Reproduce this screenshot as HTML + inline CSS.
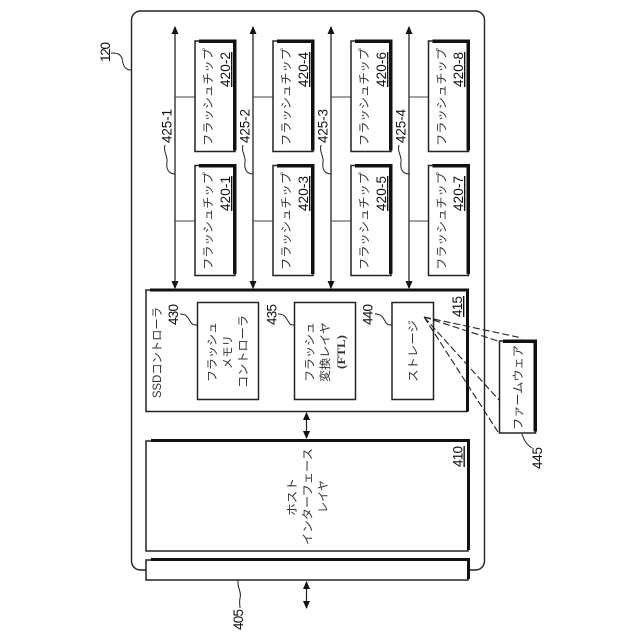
<!DOCTYPE html>
<html><head><meta charset="utf-8">
<style>
html,body{margin:0;padding:0;background:#fff}
svg{display:block}
.n{font-family:"Liberation Sans",sans-serif;font-size:13.5px;fill:#111}
.j{font-family:"Liberation Sans","Noto Sans CJK JP",sans-serif;font-size:11.5px;fill:#333}
.l{fill:none;stroke:#222;stroke-width:1.2}
.b{fill:#fff;stroke:#222;stroke-width:1.5}
.t{fill:#111}
</style></head><body>
<svg width="640" height="640" viewBox="0 0 640 640" xmlns="http://www.w3.org/2000/svg">
<defs>
<marker id="a" viewBox="0 0 8 8" refX="7" refY="4" markerWidth="8" markerHeight="8" orient="auto-start-reverse" markerUnits="userSpaceOnUse"><path d="M0 .5L8 4L0 7.5z" fill="#111"/></marker>
</defs>
<rect x="131.500" y="11" width="353" height="559" rx="9" fill="#fff" stroke="#222" stroke-width="1.4"/>

<!-- buses -->
<g stroke="#333" stroke-width="1.4">
<line x1="175" y1="27" x2="175" y2="288" marker-start="url(#a)" marker-end="url(#a)"/>
<line x1="253" y1="27" x2="253" y2="288" marker-start="url(#a)" marker-end="url(#a)"/>
<line x1="331" y1="27" x2="331" y2="288" marker-start="url(#a)" marker-end="url(#a)"/>
<line x1="409" y1="27" x2="409" y2="288" marker-start="url(#a)" marker-end="url(#a)"/>
</g>
<g stroke="#444" stroke-width="1">
<path d="M175 97H195M175 221H195M253 97H273M253 221H273M331 97H351M331 221H351M409 97H428M409 221H428" fill="none"/>
</g>

<!-- chips -->
<g>
<rect class="b" x="195" y="41" width="40" height="110.500"/><rect class="t" x="199" y="39.500" width="37.500" height="3.500"/><rect class="t" x="233" y="39.500" width="3.500" height="111"/>
<rect class="b" x="195" y="165.500" width="40" height="110"/><rect class="t" x="199" y="164" width="37.500" height="3.500"/><rect class="t" x="233" y="164" width="3.500" height="110"/>
<rect class="b" x="273" y="41" width="40" height="110.500"/><rect class="t" x="277" y="39.500" width="37.500" height="3.500"/><rect class="t" x="311" y="39.500" width="3.500" height="111"/>
<rect class="b" x="273" y="165.500" width="40" height="110"/><rect class="t" x="277" y="164" width="37.500" height="3.500"/><rect class="t" x="311" y="164" width="3.500" height="110"/>
<rect class="b" x="351" y="41" width="40" height="110.500"/><rect class="t" x="355" y="39.500" width="37.500" height="3.500"/><rect class="t" x="389" y="39.500" width="3.500" height="111"/>
<rect class="b" x="351" y="165.500" width="40" height="110"/><rect class="t" x="355" y="164" width="37.500" height="3.500"/><rect class="t" x="389" y="164" width="3.500" height="110"/>
<rect class="b" x="428.500" y="41" width="40" height="110.500"/><rect class="t" x="432.500" y="39.500" width="37.500" height="3.500"/><rect class="t" x="466.500" y="39.500" width="3.500" height="111"/>
<rect class="b" x="428.500" y="165.500" width="40" height="110"/><rect class="t" x="432.500" y="164" width="37.500" height="3.500"/><rect class="t" x="466.500" y="164" width="3.500" height="110"/>
</g>

<!-- controller -->
<rect class="b" x="146" y="290" width="321" height="121.500"/>
<rect class="t" x="150" y="288.500" width="319" height="3"/>
<rect class="t" x="466" y="288.500" width="3" height="123"/>
<rect class="b" x="197.500" y="302.500" width="61" height="97"/>
<rect class="b" x="294.500" y="302.500" width="61" height="97"/>
<rect class="b" x="392" y="302.500" width="41.500" height="97"/>

<!-- firmware -->
<rect class="b" x="499.500" y="341" width="36" height="92"/>
<rect class="t" x="503" y="339.500" width="34" height="3.500"/>
<rect class="t" x="533.500" y="339.500" width="3.500" height="92"/>
<g fill="none" stroke="#222" stroke-width="1.1" stroke-dasharray="7 3">
<path d="M424 317L522 338M424 317L498 341M424 317L499 400M424 317L498 432"/>
</g>

<!-- host -->
<rect class="b" x="146" y="441" width="322" height="110"/>
<rect class="t" x="151" y="439" width="319" height="3"/>
<rect class="t" x="467" y="439" width="3" height="111"/>

<!-- bar -->
<rect class="b" x="146" y="560" width="322" height="20"/>
<rect class="t" x="151" y="558" width="319" height="3"/>
<rect class="t" x="467" y="558" width="3" height="21"/>

<!-- vertical arrows -->
<line x1="306.500" y1="413" x2="306.500" y2="438" stroke="#222" stroke-width="1.2" marker-start="url(#a)" marker-end="url(#a)"/>
<line x1="306.500" y1="582" x2="306.500" y2="608" stroke="#222" stroke-width="1.2" marker-start="url(#a)" marker-end="url(#a)"/>

<!-- leaders -->
<g class="l" style="stroke-width:1">
<path d="M175 174C168 174 166 168 167 162C168 156 163 152 165 145"/>
<path d="M253 174C246 174 244 168 245 162C246 156 241 152 243 145"/>
<path d="M331 174C324 174 322 168 323 162C324 156 319 152 321 145"/>
<path d="M409 174C402 174 400 168 401 162C402 156 397 152 399 145"/>
<path d="M180 314C187 314 188 318 190 321C192 325 194 325 197.500 325"/>
<path d="M278 314C285 314 286 318 288 321C290 325 291 325 294.500 325"/>
<path d="M375 314C382 314 383 318 385 321C387 325 389 325 392 325"/>
<path d="M111 53C118 53 120 54 122 58C123 66 125 70 131 70"/>
<path d="M238 580C237 588 242 592 240 598C239 603 240 605 240 608"/>
<path d="M522 434C524 440 526 444 532 448"/>
</g>

<!-- text -->
<g class="j">
<text transform="translate(212,146) rotate(-90)" textLength="98" lengthAdjust="spacingAndGlyphs">フラッシュチップ</text>
<text transform="translate(212,270) rotate(-90)" textLength="98" lengthAdjust="spacingAndGlyphs">フラッシュチップ</text>
<text transform="translate(290,146) rotate(-90)" textLength="98" lengthAdjust="spacingAndGlyphs">フラッシュチップ</text>
<text transform="translate(290,270) rotate(-90)" textLength="98" lengthAdjust="spacingAndGlyphs">フラッシュチップ</text>
<text transform="translate(368,146) rotate(-90)" textLength="98" lengthAdjust="spacingAndGlyphs">フラッシュチップ</text>
<text transform="translate(368,270) rotate(-90)" textLength="98" lengthAdjust="spacingAndGlyphs">フラッシュチップ</text>
<text transform="translate(445.500,146) rotate(-90)" textLength="98" lengthAdjust="spacingAndGlyphs">フラッシュチップ</text>
<text transform="translate(445.500,270) rotate(-90)" textLength="98" lengthAdjust="spacingAndGlyphs">フラッシュチップ</text>
<text transform="translate(161,398) rotate(-90)" textLength="91" lengthAdjust="spacingAndGlyphs">SSDコントローラ</text>
<text transform="translate(216,382) rotate(-90)" textLength="60" lengthAdjust="spacingAndGlyphs">フラッシュ</text>
<text transform="translate(231.500,369) rotate(-90)" textLength="34" lengthAdjust="spacingAndGlyphs">メモリ</text>
<text transform="translate(247,388) rotate(-90)" textLength="73" lengthAdjust="spacingAndGlyphs">コントローラ</text>
<text transform="translate(313.500,382) rotate(-90)" textLength="60" lengthAdjust="spacingAndGlyphs">フラッシュ</text>
<text transform="translate(329,382) rotate(-90)" textLength="60" lengthAdjust="spacingAndGlyphs">変換レイヤ</text>
<text transform="translate(345,369) rotate(-90)" textLength="34" lengthAdjust="spacingAndGlyphs" style="font-family:'Liberation Serif',serif;font-weight:bold">(FTL)</text>
<text transform="translate(417,382) rotate(-90)" textLength="62" lengthAdjust="spacingAndGlyphs">ストレージ</text>
<text transform="translate(522,430) rotate(-90)" textLength="85" lengthAdjust="spacingAndGlyphs">ファームウェア</text>
<text transform="translate(296,516) rotate(-90)" textLength="38" lengthAdjust="spacingAndGlyphs">ホスト</text>
<text transform="translate(311.500,545) rotate(-90)" textLength="97" lengthAdjust="spacingAndGlyphs">インターフェース</text>
<text transform="translate(327,513) rotate(-90)" textLength="33" lengthAdjust="spacingAndGlyphs">レイヤ</text>
</g>
<g class="n">
<text transform="translate(230,87) rotate(-90)" text-decoration="underline" textLength="35">420-2</text>
<text transform="translate(230,211) rotate(-90)" text-decoration="underline" textLength="35">420-1</text>
<text transform="translate(308,87) rotate(-90)" text-decoration="underline" textLength="35">420-4</text>
<text transform="translate(308,211) rotate(-90)" text-decoration="underline" textLength="35">420-3</text>
<text transform="translate(386,87) rotate(-90)" text-decoration="underline" textLength="35">420-6</text>
<text transform="translate(386,211) rotate(-90)" text-decoration="underline" textLength="35">420-5</text>
<text transform="translate(463,87) rotate(-90)" text-decoration="underline" textLength="35">420-8</text>
<text transform="translate(463,211) rotate(-90)" text-decoration="underline" textLength="35">420-7</text>
<text transform="translate(171.500,143) rotate(-90)" textLength="34">425-1</text>
<text transform="translate(249.500,143) rotate(-90)" textLength="34">425-2</text>
<text transform="translate(327.500,143) rotate(-90)" textLength="34">425-3</text>
<text transform="translate(405.500,143) rotate(-90)" textLength="34">425-4</text>
<text transform="translate(178,325) rotate(-90)" textLength="21">430</text>
<text transform="translate(276.500,325) rotate(-90)" textLength="21">435</text>
<text transform="translate(372.500,325) rotate(-90)" textLength="21">440</text>
<text transform="translate(462,317) rotate(-90)" text-decoration="underline" textLength="21">415</text>
<text transform="translate(462.500,467) rotate(-90)" text-decoration="underline" textLength="21">410</text>
<text transform="translate(243,630) rotate(-90)" textLength="21">405</text>
<text transform="translate(542,469) rotate(-90)" textLength="22">445</text>
<text transform="translate(110,62) rotate(-90)" textLength="20">120</text>
</g>
</svg>
</body></html>
